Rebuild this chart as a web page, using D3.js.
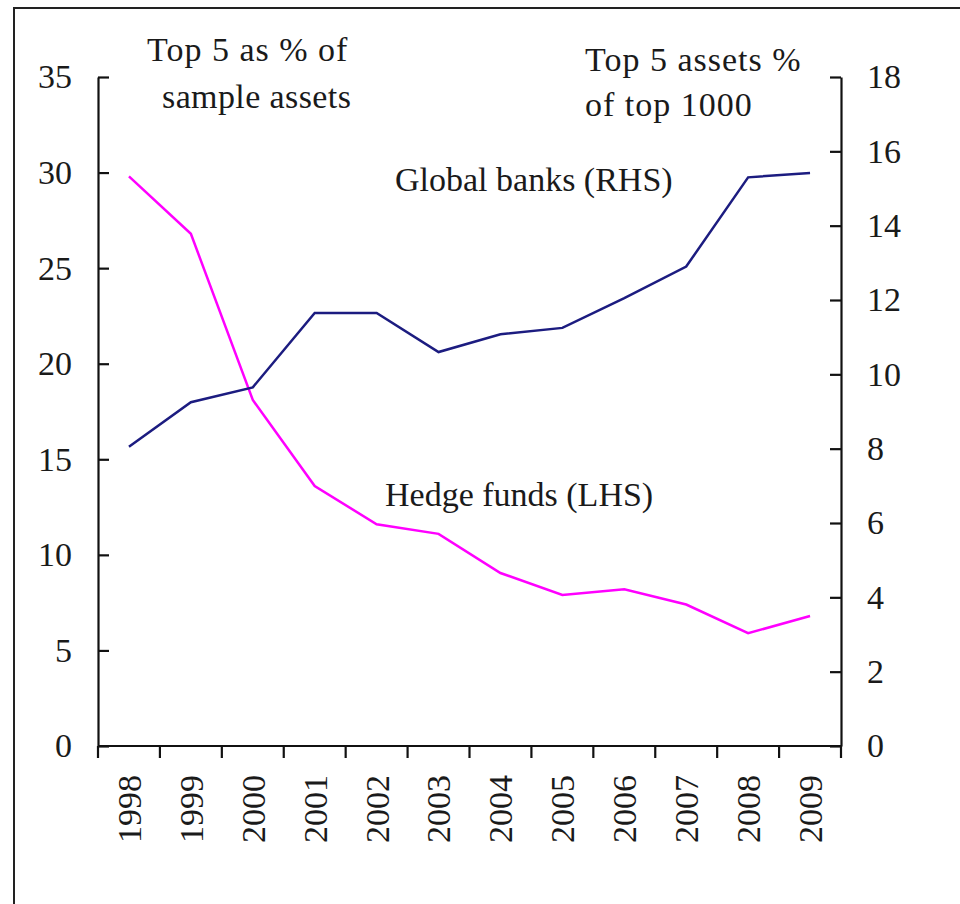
<!DOCTYPE html>
<html lang="en">
<head>
    <meta charset="UTF-8">
    <title>Top 5 concentration: hedge funds vs global banks</title>
    <script src="https://d3js.org/d3.v7.min.js"></script>
    <style>
        body { margin: 0; background: #fff; }
        svg text { font-family: "Times New Roman", "Liberation Serif", Tinos, "Nimbus Roman", "DejaVu Serif", serif; fill: #1a1a1a; }
    </style>
</head>
<body>
<script>
    // data
    var years = ["1998", "1999", "2000", "2001", "2002", "2003", "2004", "2005", "2006", "2007", "2008", "2009"];
    var hedgeFunds = [29.8, 26.8, 18.1, 13.6, 11.6, 11.1, 9.05, 7.9, 8.2, 7.4, 5.9, 6.8];   // LHS
    var globalBanks = [8.05, 9.25, 9.65, 11.65, 11.65, 10.6, 11.08, 11.25, 12.05, 12.9, 15.3, 15.42]; // RHS
    var leftTicks = [0, 5, 10, 15, 20, 25, 30, 35];
    var rightTicks = [0, 2, 4, 6, 8, 10, 12, 14, 16, 18];

    var width = 960, height = 904;
    var margin = { left: 98, right: 119, top: 77, bottom: 158 };
    var serif = "'Times New Roman', 'Liberation Serif', Tinos, 'Nimbus Roman', 'DejaVu Serif', serif";

    var svg = d3.select("body").append("svg")
        .attr("width", width)
        .attr("height", height)
        .attr("font-family", serif);

    // outer frame (runs off the right and bottom of the picture)
    svg.append("rect")
        .attr("x", 14).attr("y", 8)
        .attr("width", 1000).attr("height", 1000)
        .style("fill", "none")
        .style("stroke", "#222")
        .style("stroke-width", 2);

    var x = d3.scaleBand()
        .domain(years)
        .range([margin.left, width - margin.right]);

    var yLeft = d3.scaleLinear()
        .domain([0, 35])
        .range([height - margin.bottom, margin.top]);

    var yRight = d3.scaleLinear()
        .domain([0, 18])
        .range([height - margin.bottom, margin.top]);

    var fontSize = 34;

    // left axis
    var gl = svg.append("g")
        .attr("transform", "translate(" + margin.left + ",0)")
        .call(d3.axisLeft(yLeft).tickValues(leftTicks).tickSizeInner(-11).tickSizeOuter(0).tickPadding(26));

    // right axis
    var gr = svg.append("g")
        .attr("transform", "translate(" + (width - margin.right) + ",0)")
        .call(d3.axisRight(yRight).tickValues(rightTicks).tickSizeInner(-11).tickSizeOuter(0).tickPadding(26));

    // bottom axis, ticks on band boundaries
    var gb = svg.append("g")
        .attr("transform", "translate(0," + (height - margin.bottom) + ")");
    gb.append("line")
        .attr("x1", x.range()[0]).attr("x2", x.range()[1])
        .attr("y1", 0).attr("y2", 0);
    var bounds = years.map(function(d) { return x(d); }).concat([x.range()[1]]);
    gb.selectAll(".btick")
        .data(bounds)
        .enter().append("line")
        .attr("class", "btick")
        .attr("x1", function(d) { return d; }).attr("x2", function(d) { return d; })
        .attr("y1", 0).attr("y2", 12);
    gb.selectAll(".ylab")
        .data(years)
        .enter().append("text")
        .attr("class", "ylab")
        .attr("transform", function(d) {
            return "translate(" + (x(d) + x.bandwidth() / 2) + ",29) rotate(-90)";
        })
        .attr("dy", "0.35em")
        .attr("text-anchor", "end")
        .style("font-size", fontSize + "px")
        .text(function(d) { return d; });

    [gl, gr, gb].forEach(function(g) {
        g.attr("font-family", serif);
        g.selectAll("path, line").style("stroke", "#111").style("stroke-width", 2.2);
        g.selectAll(".tick text").style("font-size", fontSize + "px").style("fill", "#1a1a1a");
    });

    // series lines
    var cx = function(d, i) { return x(years[i]) + x.bandwidth() / 2; };

    svg.append("path")
        .datum(hedgeFunds)
        .attr("d", d3.line().x(cx).y(function(d) { return yLeft(d); }))
        .style("fill", "none")
        .style("stroke", "#ff00ff")
        .style("stroke-width", 2.5);

    svg.append("path")
        .datum(globalBanks)
        .attr("d", d3.line().x(cx).y(function(d) { return yRight(d); }))
        .style("fill", "none")
        .style("stroke", "#1c1c80")
        .style("stroke-width", 2.5);

    // annotations
    function label(txt, lx, ly, spacing) {
        svg.append("text")
            .attr("x", lx).attr("y", ly)
            .style("font-size", fontSize + "px")
            .style("letter-spacing", (spacing || 0) + "px")
            .text(txt);
    }
    label("Top 5 as % of", 147, 61, 1);
    label("sample assets", 162, 108, 0.4);
    label("Top 5 assets %", 585, 71, 1);
    label("of top 1000", 585, 116, 1);
    label("Global banks (RHS)", 395, 191);
    label("Hedge funds (LHS)", 385, 506);
</script>
</body>
</html>
